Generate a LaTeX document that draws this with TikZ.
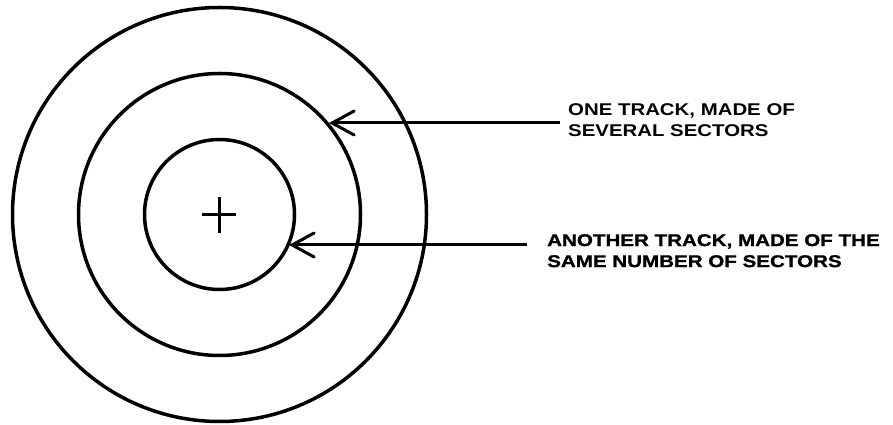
\documentclass[tikz,border=0pt]{standalone}
\usepackage{fontspec}
\setmainfont{Liberation Sans}
\newfontfamily\labfont[FakeStretch=1.2]{Liberation Sans}
\newfontfamily\heavyfont[FakeStretch=1.21,FakeBold=1.2]{Liberation Sans Bold}
\usetikzlibrary{arrows.meta}
\begin{document}
\begin{tikzpicture}[x=1pt,y=1pt,
  ring/.style={draw, circle, line width=3.5pt, inner sep=0pt},
  pointer/.style={line width=3pt, -{Straight Barb[length=22pt,width=24pt,line cap=round]}},
  lab/.style={anchor=north west, inner sep=0pt, align=left, font={\labfont\bfseries\fontsize{17}{21}\selectfont}},
  heavylab/.style={anchor=north west, inner sep=0pt, align=left, font={\heavyfont\fontsize{17}{21}\selectfont}}]
\useasboundingbox (0,0) rectangle (893,425);
\coordinate (c) at (219.5,210.5);
\node[ring, minimum size=414pt] (outer) at (c) {};
\node[ring, minimum size=282pt] (middle) at (c) {};
\node[ring, minimum size=150pt] (inner) at (c) {};
\coordinate (hl) at (202,210.5);
\coordinate (hr) at (236,210.5);
\coordinate (vt) at (219.5,228);
\coordinate (vb) at (219.5,192);
\draw[line width=2.5pt] (hl) -- (hr);
\draw[line width=2.5pt] (vt) -- (vb);
\node[lab] (t1) at (568,322) {ONE TRACK, MADE OF\\SEVERAL SECTORS};
\node[heavylab] (t2) at (547,191) {ANOTHER TRACK, MADE OF THE\\SAME NUMBER OF SECTORS};
\coordinate (s1) at (560,302);
\coordinate (e1) at (329,302);
\coordinate (s2) at (527,180);
\coordinate (e2) at (289,180);
\draw[pointer] (s1) -- (e1);
\draw[pointer] (s2) -- (e2);
\end{tikzpicture}
\end{document}
